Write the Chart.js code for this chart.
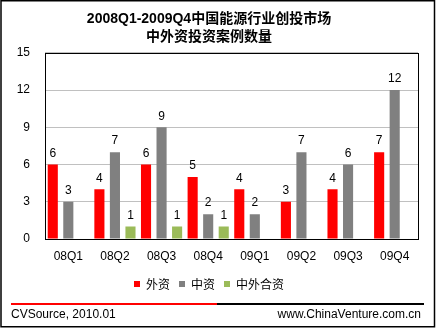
<!DOCTYPE html>
<html>
<head>
<meta charset="utf-8">
<script src="https://cdn.jsdelivr.net/npm/chart.js@4.4.0/dist/chart.umd.min.js"></script>
<style>
  html, body { margin: 0; padding: 0; background: #fff; }
  #wrap { width: 436px; height: 329px; }
</style>
</head>
<body>
<div id="wrap"><canvas id="chart" width="436" height="329"></canvas></div>
<script>
/* ---------- Data ---------- */
const QUARTERS = ["08Q1", "08Q2", "08Q3", "08Q4", "09Q1", "09Q2", "09Q3", "09Q4"];
const FOREIGN  = [6, 4, 6, 5, 4, 3, 4, 7];
const DOMESTIC = [3, 7, 9, 2, 2, 7, 6, 12];
const JOINT    = [0, 1, 1, 1, 0, 0, 0, 0];
const Y_TICKS  = [0, 3, 6, 9, 12, 15];

const LATIN = "'Liberation Sans', Arial, sans-serif";
const CJK = "'Noto Sans CJK SC', sans-serif";
const TITLE_FONT = "'Liberation Sans', 'Noto Sans CJK SC', sans-serif";

/* ---------- Plugins ---------- */
// value labels on top of each bar, skip zeros
const barLabels = {
  id: "barLabels",
  afterDatasetsDraw(chart) {
    const ctx = chart.ctx;
    ctx.save();
    ctx.font = "12px " + LATIN;
    ctx.fillStyle = "#000";
    ctx.textAlign = "center";
    ctx.textBaseline = "bottom";
    chart.data.datasets.forEach((ds, i) => {
      chart.getDatasetMeta(i).data.forEach((bar, j) => {
        const v = ds.data[j];
        if (!v) return;
        ctx.fillText(String(v), bar.x, bar.y - 5);
      });
    });
    ctx.restore();
  }
};

// plot box, outer frame and the footer line/text
const frame = {
  id: "frame",
  beforeDraw(chart) {
    const ctx = chart.ctx;
    ctx.save();
    ctx.fillStyle = "#fff";
    ctx.fillRect(0, 0, chart.width, chart.height);
    ctx.restore();
  },
  afterDraw(chart) {
    const ctx = chart.ctx;
    const a = chart.chartArea;
    ctx.save();
    ctx.strokeStyle = "#000";
    ctx.lineWidth = 1;
    ctx.strokeRect(Math.round(a.left) + 0.5, Math.round(a.top) + 0.5,
                   Math.round(a.right - a.left), Math.round(a.bottom - a.top));

    // outer frame
    ctx.lineWidth = 1.5;
    ctx.strokeRect(1, 0.75, 433.5, 326);

    // footer rule
    ctx.lineWidth = 2;
    ctx.strokeStyle = "#ff0000";
    ctx.beginPath(); ctx.moveTo(11, 304); ctx.lineTo(217, 304); ctx.stroke();
    ctx.strokeStyle = "#000";
    ctx.beginPath(); ctx.moveTo(217, 304); ctx.lineTo(424, 304); ctx.stroke();

    ctx.font = "12px " + LATIN;
    ctx.fillStyle = "#000";
    ctx.textBaseline = "middle";
    ctx.textAlign = "left";
    ctx.fillText("CVSource, 2010.01", 11, 315);
    ctx.textAlign = "right";
    ctx.fillText("www.ChinaVenture.com.cn", 421, 315);
    ctx.restore();
  }
};

/* ---------- Chart ---------- */
new Chart(document.getElementById("chart"), {
  type: "bar",
  data: {
    labels: QUARTERS,
    datasets: [
      {label: "外资", data: FOREIGN, backgroundColor: "#ff0000"},
      {label: "中资", data: DOMESTIC, backgroundColor: "#808080"},
      {label: "中外合资", data: JOINT, backgroundColor: "#9bbb59"}
    ]
  },
  options: {
    responsive: false,
    animation: false,
    devicePixelRatio: 1,
    layout: { padding: { left: 0, right: 18, top: 0, bottom: 29 } },
    datasets: { bar: { categoryPercentage: 1, barPercentage: 0.65 } },
    plugins: {
      title: {
        display: true,
        text: ["2008Q1-2009Q4中国能源行业创投市场", "中外资投资案例数量"],
        color: "#000",
        font: { family: TITLE_FONT, size: 14, weight: "bold", lineHeight: 1.28 },
        padding: { top: 10, bottom: 7 }
      },
      legend: {
        position: "bottom",
        labels: {
          color: "#000",
          boxWidth: 6,
          boxHeight: 6,
          padding: 9,
          font: { family: CJK, size: 12 }
        }
      },
      tooltip: { enabled: false }
    },
    scales: {
      x: {
        grid: { display: false, drawTicks: false },
        border: { display: false },
        ticks: { color: "#000", padding: 10, font: { family: LATIN, size: 12 } },
        afterFit(scale) { scale.height = 30; }
      },
      y: {
        min: 0,
        max: 15,
        afterBuildTicks(scale) { scale.ticks = Y_TICKS.map(v => ({value: v})); },
        grid: { color: "#c0c0c0", drawTicks: false },
        border: { display: false },
        ticks: { color: "#000", padding: 15, font: { family: LATIN, size: 12 } },
        afterFit(scale) { scale.width = 45; }
      }
    }
  },
  plugins: [frame, barLabels]
});
</script>
</body>
</html>
